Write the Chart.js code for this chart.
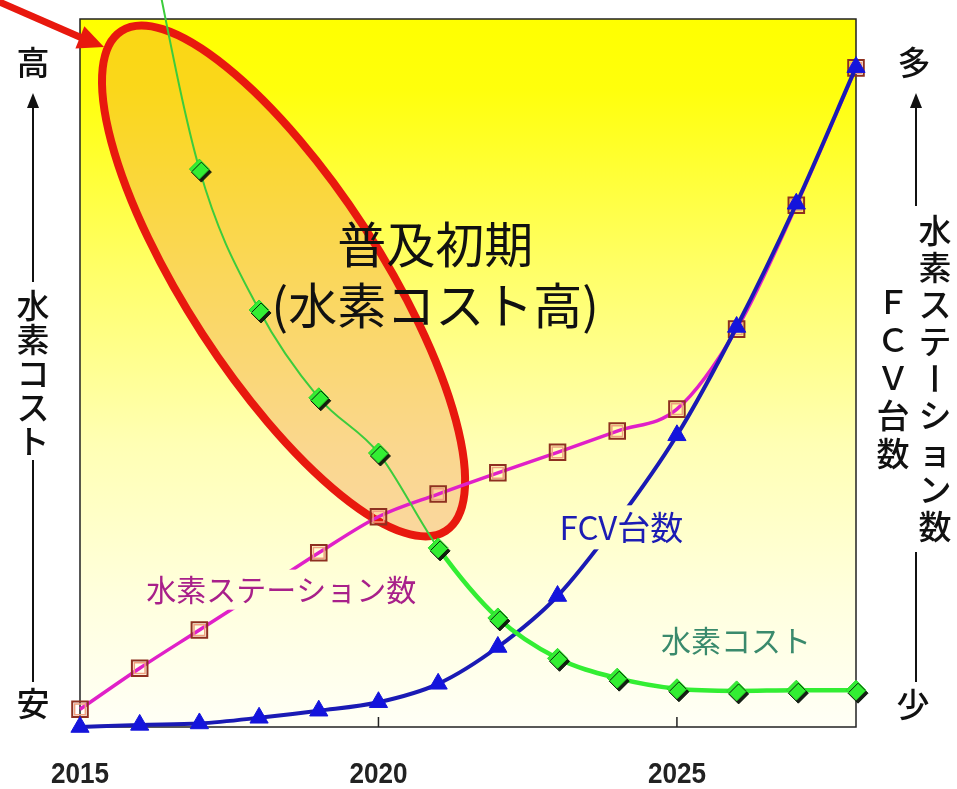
<!DOCTYPE html>
<html lang="ja">
<head>
<meta charset="utf-8">
<script src="https://cdn.jsdelivr.net/npm/chart.js@4.4.1/dist/chart.umd.min.js"></script>
<style>
  html, body { margin: 0; padding: 0; background: #fff; }
  #wrap { width: 957px; height: 789px; }
</style>
</head>
<body>
<div id="wrap"><canvas id="c" width="957" height="789"></canvas></div>
<script>
// ---- data (relative index, 0 = bottom of the frame, 100 = top) ----
const years = [2015, 2016, 2017, 2018, 2019, 2020, 2021, 2022, 2023, 2024, 2025, 2026, 2027, 2028];
const hydrogenCost = [null, 118, 78.8, 58.9, 46.5, 38.7, 25.3, 15.4, 9.7, 6.9, 5.4, 5.1, 5.2, 5.2];
const stationCount = [2.5, 8.3, 13.7, 19.1, 24.6, 29.7, 32.9, 35.9, 38.8, 41.8, 44.9, 56.2, 73.7, 93.1];
const fcvCount = [0, 0.3, 0.5, 1.3, 2.3, 3.5, 6.1, 11.3, 18.5, 29.0, 41.2, 56.5, 73.9, 93.2];
const yearTicks = [2015, 2020, 2025];
const markedTicks = [2020, 2025];

// ---- texts ----
const costName = '水素コスト';
const stationName = '水素ステーション数';
const fcvName = 'FCV台数';
const leftTop = '高', leftBottom = '安';
const rightTop = '多', rightBottom = '少';
const phaseTitle = '普及初期';
const phaseNote = '(水素コスト高)';

const JP = '"Noto Sans CJK JP", "Noto Sans", sans-serif';

const toPoints = vals => years.map((x, i) => ({ x, y: vals[i] }));

let bgGradient = null;
function gradientFor(chart) {
  const a = chart.chartArea;
  const g = chart.ctx.createLinearGradient(0, a.top, 0, a.bottom);
  g.addColorStop(0, '#ffff00');
  g.addColorStop(0.1, '#ffff0c');
  g.addColorStop(0.35, '#ffff66');
  g.addColorStop(0.6, '#ffffb4');
  g.addColorStop(0.82, '#ffffde');
  g.addColorStop(1, '#fffff6');
  return g;
}

// vertical stacked text, long-vowel mark turned upright
function verticalText(ctx, text, x, yTop, step, font, color) {
  ctx.save();
  ctx.font = font;
  ctx.fillStyle = color;
  ctx.textAlign = 'center';
  ctx.textBaseline = 'middle';
  [...text].forEach((ch, i) => {
    const y = yTop + step * i + step / 2;
    if (ch === 'ー') {
      ctx.save();
      ctx.translate(x, y);
      ctx.rotate(Math.PI / 2);
      ctx.fillText(ch, 0, 0);
      ctx.restore();
    } else {
      ctx.fillText(ch, x, y);
    }
  });
  ctx.restore();
}

function arrowUp(ctx, x, yTip, yEnd) {
  ctx.save();
  ctx.strokeStyle = '#111';
  ctx.fillStyle = '#111';
  ctx.lineWidth = 2;
  ctx.beginPath();
  ctx.moveTo(x, yTip + 10);
  ctx.lineTo(x, yEnd);
  ctx.stroke();
  ctx.beginPath();
  ctx.moveTo(x, yTip);
  ctx.lineTo(x - 6, yTip + 15);
  ctx.lineTo(x + 6, yTip + 15);
  ctx.closePath();
  ctx.fill();
  ctx.restore();
}

function vline(ctx, x, y1, y2) {
  ctx.save();
  ctx.strokeStyle = '#111';
  ctx.lineWidth = 2;
  ctx.beginPath();
  ctx.moveTo(x, y1);
  ctx.lineTo(x, y2);
  ctx.stroke();
  ctx.restore();
}

// background, frame, highlighted region
const backdrop = {
  id: 'backdrop',
  beforeDatasetsDraw(chart) {
    const { ctx, chartArea: a, scales } = chart;
    bgGradient = gradientFor(chart);
    ctx.save();
    ctx.fillStyle = bgGradient;
    ctx.fillRect(a.left, a.top, a.right - a.left, a.bottom - a.top);

    // frame
    ctx.strokeStyle = '#222';
    ctx.lineWidth = 1.5;
    ctx.strokeRect(a.left, a.top, a.right - a.left, a.bottom - a.top);
    // tick marks
    ctx.beginPath();
    markedTicks.forEach(v => {
      const x = scales.x.getPixelForValue(v);
      ctx.moveTo(x, a.bottom);
      ctx.lineTo(x, a.bottom - 10);
    });
    ctx.stroke();

    // year labels, slightly condensed
    ctx.font = 'bold 29px "Liberation Sans", Arial, sans-serif';
    ctx.fillStyle = '#222';
    ctx.textAlign = 'center';
    ctx.textBaseline = 'middle';
    yearTicks.forEach(v => {
      const x = scales.x.getPixelForValue(v);
      ctx.save();
      ctx.translate(x, a.bottom + 48);
      ctx.scale(0.9, 1);
      ctx.fillText(String(v), 0, 0);
      ctx.restore();
    });

    // early-phase ellipse
    const cx = scales.x.getPixelForValue(2018.41);
    const cy = scales.y.getPixelForValue(63);
    ctx.beginPath();
    ctx.ellipse(cx, cy, 298, 97, 57 * Math.PI / 180, 0, Math.PI * 2);
    ctx.fillStyle = 'rgba(238,130,58,0.32)';
    ctx.fill();
    ctx.lineWidth = 8;
    ctx.strokeStyle = '#e8180e';
    ctx.stroke();
    ctx.restore();
  }
};

// drop shadow for the diamond markers
const markerShadow = {
  id: 'markerShadow',
  beforeDatasetDraw(chart, args) {
    if (!chart.data.datasets[args.index].dropShadow) return;
    const ctx = chart.ctx;
    ctx.save();
    ctx.shadowColor = 'rgba(10,20,10,0.95)';
    ctx.shadowOffsetX = 2;
    ctx.shadowOffsetY = 3;
    ctx.shadowBlur = 0;
  },
  afterDatasetDraw(chart, args) {
    if (!chart.data.datasets[args.index].dropShadow) return;
    chart.ctx.restore();
  }
};

// notes, series names and axis captions
const notes = {
  id: 'notes',
  afterDatasetsDraw(chart) {
    const { ctx, scales } = chart;
    const xs = scales.x, ys = scales.y;

    function boxedLabel(text, xv, yv, font, color, w, h) {
      const x = xs.getPixelForValue(xv), y = ys.getPixelForValue(yv);
      ctx.save();
      ctx.fillStyle = bgGradient;
      ctx.fillRect(x - w / 2, y - h / 2, w, h);
      ctx.font = font;
      ctx.fillStyle = color;
      ctx.textAlign = 'center';
      ctx.textBaseline = 'middle';
      ctx.fillText(text, x, y);
      ctx.restore();
    }
    boxedLabel(stationName, 2018.37, 19.4, '30px ' + JP, '#a8208a', 300, 40);
    boxedLabel(fcvName, 2024.07, 28.2, '33px ' + JP, '#1c1cb4', 146, 44);
    boxedLabel(costName, 2025.99, 12.2, '30px ' + JP, '#3a8a6c', 170, 36);

    // phase caption
    ctx.save();
    ctx.font = '49px ' + JP;
    ctx.fillStyle = '#111';
    ctx.textAlign = 'center';
    ctx.textBaseline = 'middle';
    const px = xs.getPixelForValue(2020.95);
    ctx.fillText(phaseTitle, px, ys.getPixelForValue(68.2));
    ctx.fillText(phaseNote, px, ys.getPixelForValue(59.6));
    ctx.restore();

    // red pointer arrow
    ctx.save();
    ctx.strokeStyle = '#e8180e';
    ctx.fillStyle = '#e8180e';
    ctx.lineWidth = 7;
    const tipX = 104, tipY = 47;
    const ang = Math.atan2(tipY - 2, tipX + 8);
    ctx.beginPath();
    ctx.moveTo(-8, 2 - 8 * Math.tan(ang));
    ctx.lineTo(tipX - 20 * Math.cos(ang), tipY - 20 * Math.sin(ang));
    ctx.stroke();
    ctx.beginPath();
    ctx.moveTo(tipX, tipY);
    ctx.lineTo(tipX - 26 * Math.cos(ang) + 12 * Math.sin(ang), tipY - 26 * Math.sin(ang) - 12 * Math.cos(ang));
    ctx.lineTo(tipX - 26 * Math.cos(ang) - 12 * Math.sin(ang), tipY - 26 * Math.sin(ang) + 12 * Math.cos(ang));
    ctx.closePath();
    ctx.fill();
    ctx.restore();

    // caption columns
    const big = '500 33px ' + JP;
    ctx.save();
    ctx.font = big;
    ctx.fillStyle = '#111';
    ctx.textAlign = 'center';
    ctx.textBaseline = 'middle';
    ctx.fillText(leftTop, 33, 62);
    ctx.fillText(leftBottom, 33, 703);
    ctx.fillText(rightTop, 914, 62);
    ctx.fillText(rightBottom, 913, 704);
    ctx.restore();
    arrowUp(ctx, 33, 93, 282);
    verticalText(ctx, costName, 33, 288, 34, big, '#111');
    vline(ctx, 33, 460, 682);

    arrowUp(ctx, 916, 93, 206);
    verticalText(ctx, stationName, 935, 212, 37, big, '#111');
    vline(ctx, 916, 552, 682);
    verticalText(ctx, 'ＦＣＶ台数', 893, 282, 38, big, '#111');
  }
};

const shared = { cubicInterpolationMode: 'monotone', clip: false };

new Chart(document.getElementById('c'), {
  type: 'line',
  data: {
    datasets: [
      { ...shared, label: stationName, data: toPoints(stationCount), yAxisID: 'y1',
        borderColor: '#e020c8', borderWidth: 3.5, pointRadius: 0, order: 7 },
      { ...shared, label: stationName + ' marker', data: toPoints(stationCount), yAxisID: 'y1',
        showLine: false, pointStyle: 'rect', pointRadius: 11, pointBackgroundColor: 'rgba(255,255,255,0)',
        pointBorderColor: '#8e3020', pointBorderWidth: 2, order: 6 },
      { ...shared, label: stationName + ' marker inner', data: toPoints(stationCount), yAxisID: 'y1',
        showLine: false, pointStyle: 'rect', pointRadius: 7.6, pointBackgroundColor: 'rgba(255,255,255,0)',
        pointBorderColor: '#f0a080', pointBorderWidth: 1.5, order: 5 },
      { ...shared, label: fcvName, data: toPoints(fcvCount), yAxisID: 'y1',
        borderColor: '#1a1ab4', borderWidth: 4, pointRadius: 0, order: 4 },
      { ...shared, label: fcvName + ' marker', data: toPoints(fcvCount), yAxisID: 'y1',
        showLine: false, pointStyle: 'triangle', pointRadius: 10.5, pointBackgroundColor: '#1414dc',
        pointBorderColor: '#1414dc', pointBorderWidth: 1, order: 3 },
      { ...shared, label: costName, data: toPoints(hydrogenCost), yAxisID: 'y',
        borderColor: '#3ccc3c', borderWidth: 2, pointRadius: 0, order: 2,
        segment: {
          borderWidth: c => (c.p0.parsed.x >= 2021 ? 4.5 : 2),
          borderColor: c => (c.p0.parsed.x >= 2021 ? '#33ee33' : '#3ccc3c')
        } },
      { ...shared, label: costName + ' marker', data: toPoints(hydrogenCost), yAxisID: 'y',
        showLine: false, pointStyle: 'rectRot', pointRadius: 10, pointBackgroundColor: '#33ee33',
        pointBorderColor: '#2ad82a', pointBorderWidth: 1, order: 1, dropShadow: true }
    ]
  },
  options: {
    responsive: false,
    devicePixelRatio: 1,
    animation: false,
    events: [],
    layout: { padding: { left: 80, right: 101, top: 19, bottom: 0 } },
    plugins: { legend: { display: false }, tooltip: { enabled: false }, title: { display: false } },
    scales: {
      x: {
        type: 'linear', min: 2015, max: 2028,
        grid: { display: false, drawTicks: false },
        border: { display: false },
        afterBuildTicks: s => { s.ticks = yearTicks.map(v => ({ value: v })); },
        afterFit: s => { s.height = 62; },
        ticks: { display: false }
      },
      y: { type: 'linear', min: 0, max: 100, display: false },
      y1: { type: 'linear', min: 0, max: 100, display: false, position: 'right' }
    }
  },
  plugins: [backdrop, markerShadow, notes]
});
</script>
</body>
</html>
